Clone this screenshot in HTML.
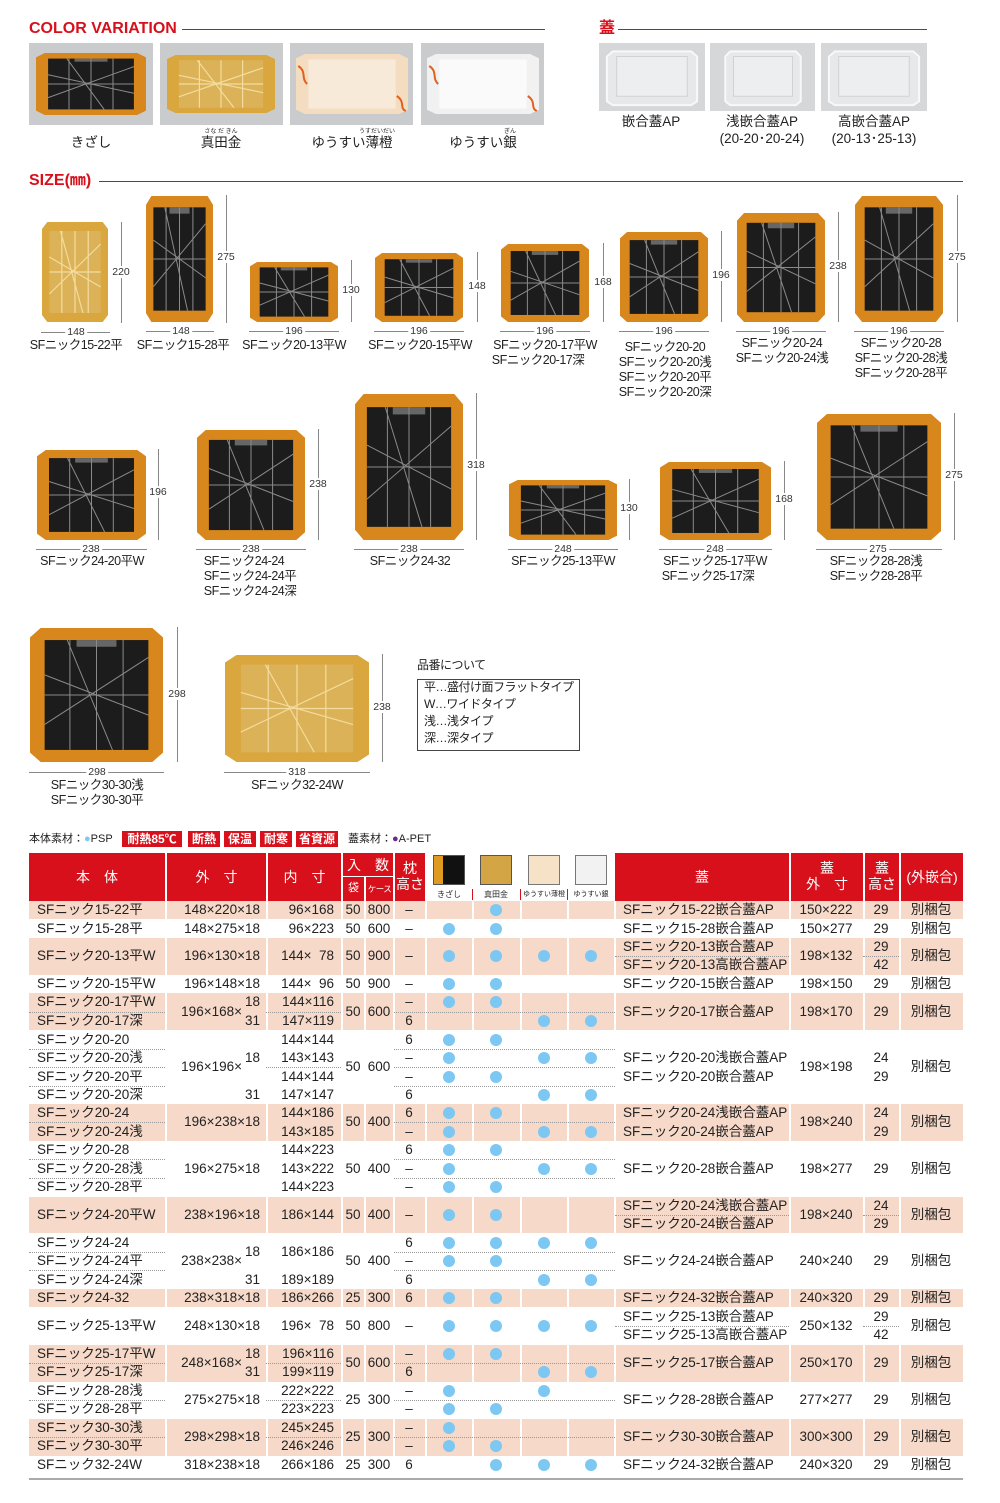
<!DOCTYPE html>
<html><head><meta charset="utf-8"><style>
*{margin:0;padding:0;box-sizing:border-box}
body{width:1000px;height:1503px;position:relative;background:#fff;font-family:"Liberation Sans","Noto Sans CJK JP",sans-serif;color:#222;overflow:hidden}
.a{position:absolute;white-space:nowrap;line-height:18px;height:18px;margin-top:-9px;font-size:13.5px}
.sz .a{font-size:12.5px;letter-spacing:-0.5px;line-height:15px}
.m{transform:translateX(-50%)}
.r{transform:translateX(-100%)}
.b{position:absolute}
.h{color:#d7101b;font-weight:bold;font-size:16px}
.tr{position:absolute}
.tr svg{width:100%;height:100%;display:block}
.vl{position:absolute;width:1px;background:#888}
.hl{position:absolute;height:1px;background:#888}
.dl{position:absolute;font-size:10.5px;color:#333;background:#fff;line-height:12px;padding:0 2px;white-space:nowrap}
.pk{position:absolute;left:29px;width:934px;background:#f6d9c9}
.wv{position:absolute;width:2px;background:#fff;top:901px;height:577px}
.dot{position:absolute;width:12px;height:12px;border-radius:50%;background:#7cc8f2;margin:-6px 0 0 -6px}
.hd{position:absolute;color:#fff;font-size:14px;line-height:17px;text-align:center;white-space:nowrap}
.ds{position:absolute;height:0;border-top:1px dotted #999}
</style></head><body>
<svg width="0" height="0" style="position:absolute"><defs>
<symbol id="k" viewBox="0 0 100 100" preserveAspectRatio="none"><polygon points="8,0 92,0 100,7 100,93 92,100 8,100 0,93 0,7" fill="#d8871c"/><rect x="11" y="9" width="78" height="82" fill="#1c1c1c"/><rect x="35" y="9" width="30" height="5" fill="#666"/><path d="M11,35 L89,65 M28,9 L62,91 M11,72 L89,22 M50,9 V91 M11,50 H89 M30,9 V91 M70,9 V91" stroke="#8a8a8a" stroke-width="1" fill="none" vector-effect="non-scaling-stroke"/></symbol>
<symbol id="g" viewBox="0 0 100 100" preserveAspectRatio="none"><polygon points="8,0 92,0 100,7 100,93 92,100 8,100 0,93 0,7" fill="#d9a73e"/><rect x="11" y="9" width="78" height="82" fill="#dcb258"/><path d="M11,35 L89,65 M28,9 L62,91 M11,72 L89,22 M50,9 V91 M11,50 H89 M30,9 V91 M70,9 V91" stroke="#f3dc9e" stroke-width="1.2" fill="none" vector-effect="non-scaling-stroke"/></symbol>
<symbol id="o" viewBox="0 0 100 100" preserveAspectRatio="none"><polygon points="8,0 92,0 100,7 100,93 92,100 8,100 0,93 0,7" fill="#f3dcc0"/><rect x="11" y="9" width="78" height="82" fill="#f8ead8"/><path d="M2,20 C10,30 4,40 10,50 M90,70 C98,80 92,90 98,95" stroke="#e0601e" stroke-width="2" fill="none" vector-effect="non-scaling-stroke"/></symbol>
<symbol id="s" viewBox="0 0 100 100" preserveAspectRatio="none"><polygon points="8,0 92,0 100,7 100,93 92,100 8,100 0,93 0,7" fill="#f1f1f1"/><rect x="11" y="9" width="78" height="82" fill="#fafafa"/><path d="M2,20 C10,30 4,40 10,50 M90,70 C98,80 92,90 98,95" stroke="#e0601e" stroke-width="2" fill="none" vector-effect="non-scaling-stroke"/></symbol>
<symbol id="l" viewBox="0 0 100 100" preserveAspectRatio="none"><polygon points="10,10 90,10 96,18 96,88 90,94 10,94 4,88 4,18" fill="#e6e8ea" stroke="#f8f8f8" stroke-width="2" vector-effect="non-scaling-stroke"/><rect x="14" y="18" width="72" height="62" fill="#eceeef" stroke="#d0d2d4" vector-effect="non-scaling-stroke"/></symbol>
</defs></svg>

<!-- headers -->
<div class="a h" style="left:29px;top:29px">COLOR VARIATION</div>
<div class="b" style="left:182px;top:29px;width:363px;height:1px;background:#d7101b"></div>
<div class="a h" style="left:599px;top:29px">蓋</div>
<div class="b" style="left:618px;top:29px;width:309px;height:1px;background:#d7101b"></div>
<div class="a h" style="left:29px;top:181px">SIZE(㎜)</div>
<div class="b" style="left:99px;top:181px;width:864px;height:1px;background:#d7101b"></div>

<!-- color variation -->
<div class="b" style="left:29px;top:43px;width:124px;height:82px;background:#c9cbcd"></div>
<div class="tr" style="left:36px;top:53px;width:110px;height:62px"><svg><use href="#k"/></svg></div>
<div class="b" style="left:160px;top:43px;width:123px;height:82px;background:#c9cbcd"></div>
<div class="tr" style="left:167px;top:55px;width:108px;height:58px"><svg><use href="#g"/></svg></div>
<div class="b" style="left:290px;top:43px;width:123px;height:82px;background:#c9cbcd"></div>
<div class="tr" style="left:296px;top:54px;width:112px;height:60px"><svg><use href="#o"/></svg></div>
<div class="b" style="left:421px;top:43px;width:123px;height:82px;background:#c9cbcd"></div>
<div class="tr" style="left:427px;top:54px;width:112px;height:60px"><svg><use href="#s"/></svg></div>
<div class="a m" style="left:91px;top:143px">きざし</div>
<div class="a m" style="left:221px;top:143px">真田金</div>
<div class="a m" style="left:221px;top:132px;font-size:6px">さな だ きん</div>
<div class="a m" style="left:352px;top:143px">ゆうすい薄橙</div>
<div class="a m" style="left:377px;top:132px;font-size:6px">うすだいだい</div>
<div class="a m" style="left:483px;top:143px">ゆうすい銀</div>
<div class="a m" style="left:510px;top:132px;font-size:6px">ぎん</div>

<div class="b" style="left:599px;top:43px;width:106px;height:68px;background:#d5d7d9"></div>
<div class="tr" style="left:603px;top:45px;width:98px;height:64px"><svg><use href="#l"/></svg></div>
<div class="b" style="left:710px;top:43px;width:105px;height:68px;background:#d5d7d9"></div>
<div class="tr" style="left:722px;top:45px;width:82px;height:64px"><svg><use href="#l"/></svg></div>
<div class="b" style="left:821px;top:43px;width:106px;height:68px;background:#d5d7d9"></div>
<div class="tr" style="left:825px;top:45px;width:98px;height:64px"><svg><use href="#l"/></svg></div>
<div class="a m" style="left:651px;top:122px">嵌合蓋AP</div>
<div class="a m" style="left:762px;top:122px">浅嵌合蓋AP</div>
<div class="a m" style="left:762px;top:139px">(20-20･20-24)</div>
<div class="a m" style="left:874px;top:122px">高嵌合蓋AP</div>
<div class="a m" style="left:874px;top:139px">(20-13･25-13)</div>

<div class="sz">
<!-- trays row1 -->
<div class="tr" style="left:42px;top:222px;width:66px;height:100px"><svg><use href="#g"/></svg></div>
<div class="vl" style="left:121px;top:222px;height:101px"></div><div class="dl m" style="left:121px;top:266px">220</div>
<div class="hl" style="left:41px;top:332px;width:69px"></div><div class="dl m" style="left:76px;top:326px">148</div>
<div class="a m" style="left:76px;top:347px">SFニック15-22平</div>

<div class="tr" style="left:146px;top:196px;width:67px;height:126px"><svg><use href="#k"/></svg></div>
<div class="vl" style="left:226px;top:195px;height:128px"></div><div class="dl m" style="left:226px;top:251px">275</div>
<div class="hl" style="left:146px;top:331px;width:68px"></div><div class="dl m" style="left:181px;top:325px">148</div>
<div class="a m" style="left:183px;top:347px">SFニック15-28平</div>

<div class="tr" style="left:250px;top:262px;width:88px;height:60px"><svg><use href="#k"/></svg></div>
<div class="vl" style="left:351px;top:260px;height:62px"></div><div class="dl m" style="left:351px;top:284px">130</div>
<div class="hl" style="left:249px;top:331px;width:90px"></div><div class="dl m" style="left:294px;top:325px">196</div>
<div class="a m" style="left:294px;top:347px">SFニック20-13平W</div>

<div class="tr" style="left:375px;top:253px;width:88px;height:69px"><svg><use href="#k"/></svg></div>
<div class="vl" style="left:477px;top:252px;height:70px"></div><div class="dl m" style="left:477px;top:280px">148</div>
<div class="hl" style="left:374px;top:331px;width:90px"></div><div class="dl m" style="left:419px;top:325px">196</div>
<div class="a m" style="left:420px;top:347px">SFニック20-15平W</div>

<div class="tr" style="left:501px;top:244px;width:88px;height:78px"><svg><use href="#k"/></svg></div>
<div class="vl" style="left:603px;top:243px;height:79px"></div><div class="dl m" style="left:603px;top:276px">168</div>
<div class="hl" style="left:500px;top:331px;width:90px"></div><div class="dl m" style="left:545px;top:325px">196</div>
<div class="a m" style="left:545px;top:347px">SFニック20-17平W</div>
<div class="a m" style="left:538px;top:362px">SFニック20-17深</div>

<div class="tr" style="left:620px;top:232px;width:88px;height:90px"><svg><use href="#k"/></svg></div>
<div class="vl" style="left:721px;top:231px;height:91px"></div><div class="dl m" style="left:721px;top:269px">196</div>
<div class="hl" style="left:619px;top:331px;width:90px"></div><div class="dl m" style="left:664px;top:325px">196</div>
<div class="a m" style="left:665px;top:349px">SFニック20-20</div>
<div class="a m" style="left:665px;top:364px">SFニック20-20浅</div>
<div class="a m" style="left:665px;top:379px">SFニック20-20平</div>
<div class="a m" style="left:665px;top:394px">SFニック20-20深</div>

<div class="tr" style="left:737px;top:213px;width:88px;height:109px"><svg><use href="#k"/></svg></div>
<div class="vl" style="left:838px;top:212px;height:110px"></div><div class="dl m" style="left:838px;top:260px">238</div>
<div class="hl" style="left:736px;top:331px;width:90px"></div><div class="dl m" style="left:781px;top:325px">196</div>
<div class="a m" style="left:782px;top:345px">SFニック20-24</div>
<div class="a m" style="left:782px;top:360px">SFニック20-24浅</div>

<div class="tr" style="left:855px;top:196px;width:88px;height:126px"><svg><use href="#k"/></svg></div>
<div class="vl" style="left:957px;top:195px;height:127px"></div><div class="dl m" style="left:957px;top:251px">275</div>
<div class="hl" style="left:854px;top:331px;width:90px"></div><div class="dl m" style="left:899px;top:325px">196</div>
<div class="a m" style="left:901px;top:345px">SFニック20-28</div>
<div class="a m" style="left:901px;top:360px">SFニック20-28浅</div>
<div class="a m" style="left:901px;top:375px">SFニック20-28平</div>

<!-- row2 -->
<div class="tr" style="left:37px;top:450px;width:109px;height:90px"><svg><use href="#k"/></svg></div>
<div class="vl" style="left:158px;top:449px;height:91px"></div><div class="dl m" style="left:158px;top:486px">196</div>
<div class="hl" style="left:36px;top:549px;width:111px"></div><div class="dl m" style="left:91px;top:543px">238</div>
<div class="a m" style="left:92px;top:563px">SFニック24-20平W</div>

<div class="tr" style="left:197px;top:430px;width:108px;height:110px"><svg><use href="#k"/></svg></div>
<div class="vl" style="left:318px;top:429px;height:111px"></div><div class="dl m" style="left:318px;top:478px">238</div>
<div class="hl" style="left:196px;top:549px;width:110px"></div><div class="dl m" style="left:251px;top:543px">238</div>
<div class="a m" style="left:244px;top:563px">SFニック24-24</div>
<div class="a m" style="left:250px;top:578px">SFニック24-24平</div>
<div class="a m" style="left:250px;top:593px">SFニック24-24深</div>

<div class="tr" style="left:355px;top:394px;width:108px;height:146px"><svg><use href="#k"/></svg></div>
<div class="vl" style="left:476px;top:393px;height:147px"></div><div class="dl m" style="left:476px;top:459px">318</div>
<div class="hl" style="left:354px;top:549px;width:110px"></div><div class="dl m" style="left:409px;top:543px">238</div>
<div class="a m" style="left:410px;top:563px">SFニック24-32</div>

<div class="tr" style="left:509px;top:480px;width:108px;height:60px"><svg><use href="#k"/></svg></div>
<div class="vl" style="left:629px;top:479px;height:61px"></div><div class="dl m" style="left:629px;top:502px">130</div>
<div class="hl" style="left:508px;top:549px;width:110px"></div><div class="dl m" style="left:563px;top:543px">248</div>
<div class="a m" style="left:563px;top:563px">SFニック25-13平W</div>

<div class="tr" style="left:660px;top:462px;width:111px;height:78px"><svg><use href="#k"/></svg></div>
<div class="vl" style="left:784px;top:461px;height:79px"></div><div class="dl m" style="left:784px;top:493px">168</div>
<div class="hl" style="left:659px;top:549px;width:113px"></div><div class="dl m" style="left:715px;top:543px">248</div>
<div class="a m" style="left:715px;top:563px">SFニック25-17平W</div>
<div class="a m" style="left:708px;top:578px">SFニック25-17深</div>

<div class="tr" style="left:817px;top:414px;width:124px;height:126px"><svg><use href="#k"/></svg></div>
<div class="vl" style="left:954px;top:413px;height:127px"></div><div class="dl m" style="left:954px;top:469px">275</div>
<div class="hl" style="left:816px;top:549px;width:126px"></div><div class="dl m" style="left:878px;top:543px">275</div>
<div class="a m" style="left:876px;top:563px">SFニック28-28浅</div>
<div class="a m" style="left:876px;top:578px">SFニック28-28平</div>

<!-- row3 -->
<div class="tr" style="left:30px;top:628px;width:133px;height:134px"><svg><use href="#k"/></svg></div>
<div class="vl" style="left:177px;top:627px;height:135px"></div><div class="dl m" style="left:177px;top:688px">298</div>
<div class="hl" style="left:29px;top:772px;width:135px"></div><div class="dl m" style="left:97px;top:766px">298</div>
<div class="a m" style="left:97px;top:787px">SFニック30-30浅</div>
<div class="a m" style="left:97px;top:802px">SFニック30-30平</div>

<div class="tr" style="left:225px;top:655px;width:144px;height:107px"><svg><use href="#g"/></svg></div>
<div class="vl" style="left:382px;top:654px;height:108px"></div><div class="dl m" style="left:382px;top:701px">238</div>
<div class="hl" style="left:224px;top:772px;width:146px"></div><div class="dl m" style="left:297px;top:766px">318</div>
<div class="a m" style="left:297px;top:787px">SFニック32-24W</div>

<div class="a" style="left:417px;top:667px;font-size:12px">品番について</div>
<div class="b" style="left:417px;top:679px;width:163px;height:72px;border:1px solid #444"></div>
<div class="a" style="left:424px;top:689px;font-size:12px">平…盛付け面フラットタイプ</div>
<div class="a" style="left:424px;top:706px;font-size:12px">W…ワイドタイプ</div>
<div class="a" style="left:424px;top:723px;font-size:12px">浅…浅タイプ</div>
<div class="a" style="left:424px;top:740px;font-size:12px">深…深タイプ</div>
</div>

<!-- material line -->
<div class="a" style="left:29px;top:839px;font-size:11px">本体素材：<span style="color:#7cc8f2">●</span>PSP</div>
<div class="b" style="left:122px;top:831px;width:60px;height:16px;background:#d7101b;color:#fff;font-size:12px;font-weight:bold;text-align:center;line-height:16px">耐熱85℃</div>
<div class="b" style="left:188px;top:831px;width:32px;height:16px;background:#d7101b;color:#fff;font-size:12px;font-weight:bold;text-align:center;line-height:16px">断熱</div>
<div class="b" style="left:224px;top:831px;width:32px;height:16px;background:#d7101b;color:#fff;font-size:12px;font-weight:bold;text-align:center;line-height:16px">保温</div>
<div class="b" style="left:260px;top:831px;width:32px;height:16px;background:#d7101b;color:#fff;font-size:12px;font-weight:bold;text-align:center;line-height:16px">耐寒</div>
<div class="b" style="left:296px;top:831px;width:42px;height:16px;background:#d7101b;color:#fff;font-size:12px;font-weight:bold;text-align:center;line-height:16px">省資源</div>
<div class="a" style="left:348px;top:839px;font-size:11px">蓋素材：<span style="color:#6a2a8a">●</span>A-PET</div>

<!-- table header -->
<div class="b" style="left:29px;top:853px;width:396px;height:48px;background:#d7101b"></div>
<div class="b" style="left:615px;top:853px;width:348px;height:48px;background:#d7101b"></div>
<div class="b" style="left:165px;top:853px;width:2px;height:48px;background:#fff"></div>
<div class="b" style="left:266px;top:853px;width:2px;height:48px;background:#fff"></div>
<div class="b" style="left:341px;top:853px;width:2px;height:48px;background:#fff"></div>
<div class="b" style="left:393px;top:853px;width:2px;height:48px;background:#fff"></div>
<div class="b" style="left:364px;top:877px;width:2px;height:24px;background:#fff"></div>
<div class="b" style="left:341px;top:876px;width:53px;height:1px;background:#fff"></div>
<div class="b" style="left:789px;top:853px;width:2px;height:48px;background:#fff"></div>
<div class="b" style="left:863px;top:853px;width:2px;height:48px;background:#fff"></div>
<div class="b" style="left:899px;top:853px;width:2px;height:48px;background:#fff"></div>
<div class="hd" style="left:29px;width:136px;top:869px">本　体</div>
<div class="hd" style="left:167px;width:99px;top:869px">外　寸</div>
<div class="hd" style="left:268px;width:73px;top:869px">内　寸</div>
<div class="hd" style="left:343px;width:50px;top:857px">入　数</div>
<div class="hd" style="left:343px;width:21px;top:880px;font-size:11px">袋</div>
<div class="hd" style="left:366px;width:27px;top:881px;font-size:8.5px;letter-spacing:-0.5px">ケース</div>
<div class="hd" style="left:395px;width:30px;top:860px;line-height:16px">枕<br>高さ</div>
<div class="hd" style="left:615px;width:174px;top:869px">蓋</div>
<div class="hd" style="left:791px;width:72px;top:860px;line-height:16px">蓋<br>外　寸</div>
<div class="hd" style="left:865px;width:34px;top:860px;line-height:16px">蓋<br>高さ</div>
<div class="hd" style="left:901px;width:62px;top:869px">(外嵌合)</div>
<!-- swatches -->
<div class="b" style="left:433px;top:855px;width:32px;height:30px;background:linear-gradient(90deg,#e09a20 30%,#111 30%);border:1px solid #555"></div>
<div class="b" style="left:480px;top:855px;width:32px;height:30px;background:#d4a544;border:1px solid #555"></div>
<div class="b" style="left:528px;top:855px;width:32px;height:30px;background:#f6e2c6;border:1px solid #777"></div>
<div class="b" style="left:575px;top:855px;width:32px;height:30px;background:#f2f2f2;border:1px solid #777"></div>
<div class="a m" style="left:449px;top:895px;font-size:8px">きざし</div>
<div class="a m" style="left:496px;top:895px;font-size:8px">真田金</div>
<div class="a m" style="left:544px;top:895px;font-size:7px">ゆうすい薄橙</div>
<div class="a m" style="left:591px;top:895px;font-size:7px">ゆうすい銀</div>
<div class="b" style="left:472px;top:889px;width:1px;height:11px;background:#d7101b"></div>
<div class="b" style="left:520px;top:889px;width:1px;height:11px;background:#d7101b"></div>
<div class="b" style="left:567px;top:889px;width:1px;height:11px;background:#d7101b"></div>

<!-- peach rows -->
<div class="pk" style="top:901px;height:18px"></div>
<div class="pk" style="top:938px;height:37px"></div>
<div class="pk" style="top:993px;height:37px"></div>
<div class="pk" style="top:1104px;height:37px"></div>
<div class="pk" style="top:1197px;height:36px"></div>
<div class="pk" style="top:1289px;height:18px"></div>
<div class="pk" style="top:1345px;height:37px"></div>
<div class="pk" style="top:1419px;height:37px"></div>
<div class="wv" style="left:165px"></div><div class="wv" style="left:266px"></div><div class="wv" style="left:341px"></div><div class="wv" style="left:364px"></div><div class="wv" style="left:393px"></div><div class="wv" style="left:425px"></div><div class="wv" style="left:472px"></div><div class="wv" style="left:520px"></div><div class="wv" style="left:567px"></div><div class="wv" style="left:614px"></div><div class="wv" style="left:789px"></div><div class="wv" style="left:863px"></div><div class="wv" style="left:899px"></div>
<div class="b" style="left:29px;top:1478px;width:934px;height:2px;background:#aaa"></div>

<!-- dotted separators -->
<div class="ds" style="left:29px;top:1012px;width:136px"></div><div class="ds" style="left:266px;top:1012px;width:75px"></div><div class="ds" style="left:394px;top:1012px;width:221px"></div>
<div class="ds" style="left:615px;top:956px;width:174px"></div><div class="ds" style="left:863px;top:956px;width:36px"></div>
<div class="ds" style="left:29px;top:1049px;width:136px"></div><div class="ds" style="left:29px;top:1067px;width:136px"></div><div class="ds" style="left:29px;top:1086px;width:136px"></div>
<div class="ds" style="left:266px;top:1067px;width:75px"></div><div class="ds" style="left:394px;top:1049px;width:221px"></div><div class="ds" style="left:394px;top:1067px;width:221px"></div><div class="ds" style="left:394px;top:1086px;width:221px"></div>
<div class="ds" style="left:29px;top:1122px;width:136px"></div><div class="ds" style="left:394px;top:1122px;width:221px"></div>
<div class="ds" style="left:29px;top:1159px;width:136px"></div><div class="ds" style="left:29px;top:1178px;width:136px"></div><div class="ds" style="left:394px;top:1159px;width:221px"></div><div class="ds" style="left:394px;top:1178px;width:221px"></div>
<div class="ds" style="left:615px;top:1215px;width:174px"></div><div class="ds" style="left:863px;top:1215px;width:36px"></div>
<div class="ds" style="left:29px;top:1252px;width:136px"></div><div class="ds" style="left:29px;top:1270px;width:136px"></div><div class="ds" style="left:394px;top:1252px;width:221px"></div><div class="ds" style="left:394px;top:1270px;width:221px"></div>
<div class="ds" style="left:615px;top:1326px;width:174px"></div><div class="ds" style="left:863px;top:1326px;width:36px"></div>
<div class="ds" style="left:29px;top:1363px;width:136px"></div><div class="ds" style="left:266px;top:1363px;width:75px"></div><div class="ds" style="left:394px;top:1363px;width:221px"></div>
<div class="ds" style="left:29px;top:1400px;width:136px"></div><div class="ds" style="left:266px;top:1400px;width:75px"></div><div class="ds" style="left:394px;top:1400px;width:221px"></div>
<div class="ds" style="left:29px;top:1437px;width:136px"></div><div class="ds" style="left:266px;top:1437px;width:75px"></div><div class="ds" style="left:394px;top:1437px;width:221px"></div>

<!-- names -->
<div class="a" style="left:37px;top:910px">SFニック15-22平</div>
<div class="a" style="left:37px;top:929px">SFニック15-28平</div>
<div class="a" style="left:37px;top:956px">SFニック20-13平W</div>
<div class="a" style="left:37px;top:984px">SFニック20-15平W</div>
<div class="a" style="left:37px;top:1002px">SFニック20-17平W</div>
<div class="a" style="left:37px;top:1021px">SFニック20-17深</div>
<div class="a" style="left:37px;top:1040px">SFニック20-20</div>
<div class="a" style="left:37px;top:1058px">SFニック20-20浅</div>
<div class="a" style="left:37px;top:1077px">SFニック20-20平</div>
<div class="a" style="left:37px;top:1095px">SFニック20-20深</div>
<div class="a" style="left:37px;top:1113px">SFニック20-24</div>
<div class="a" style="left:37px;top:1132px">SFニック20-24浅</div>
<div class="a" style="left:37px;top:1150px">SFニック20-28</div>
<div class="a" style="left:37px;top:1169px">SFニック20-28浅</div>
<div class="a" style="left:37px;top:1187px">SFニック20-28平</div>
<div class="a" style="left:37px;top:1215px">SFニック24-20平W</div>
<div class="a" style="left:37px;top:1243px">SFニック24-24</div>
<div class="a" style="left:37px;top:1261px">SFニック24-24平</div>
<div class="a" style="left:37px;top:1280px">SFニック24-24深</div>
<div class="a" style="left:37px;top:1298px">SFニック24-32</div>
<div class="a" style="left:37px;top:1326px">SFニック25-13平W</div>
<div class="a" style="left:37px;top:1354px">SFニック25-17平W</div>
<div class="a" style="left:37px;top:1372px">SFニック25-17深</div>
<div class="a" style="left:37px;top:1391px">SFニック28-28浅</div>
<div class="a" style="left:37px;top:1409px">SFニック28-28平</div>
<div class="a" style="left:37px;top:1428px">SFニック30-30浅</div>
<div class="a" style="left:37px;top:1446px">SFニック30-30平</div>
<div class="a" style="left:37px;top:1465px">SFニック32-24W</div>

<!-- 外寸 -->
<div class="a r" style="left:260px;top:910px">148×220×18</div>
<div class="a r" style="left:260px;top:929px">148×275×18</div>
<div class="a r" style="left:260px;top:956px">196×130×18</div>
<div class="a r" style="left:260px;top:984px">196×148×18</div>
<div class="a r" style="left:242px;top:1012px">196×168×</div><div class="a r" style="left:260px;top:1002px">18</div><div class="a r" style="left:260px;top:1021px">31</div>
<div class="a r" style="left:242px;top:1067px">196×196×</div><div class="a r" style="left:260px;top:1058px">18</div><div class="a r" style="left:260px;top:1095px">31</div>
<div class="a r" style="left:260px;top:1122px">196×238×18</div>
<div class="a r" style="left:260px;top:1169px">196×275×18</div>
<div class="a r" style="left:260px;top:1215px">238×196×18</div>
<div class="a r" style="left:242px;top:1261px">238×238×</div><div class="a r" style="left:260px;top:1252px">18</div><div class="a r" style="left:260px;top:1280px">31</div>
<div class="a r" style="left:260px;top:1298px">238×318×18</div>
<div class="a r" style="left:260px;top:1326px">248×130×18</div>
<div class="a r" style="left:242px;top:1363px">248×168×</div><div class="a r" style="left:260px;top:1354px">18</div><div class="a r" style="left:260px;top:1372px">31</div>
<div class="a r" style="left:260px;top:1400px">275×275×18</div>
<div class="a r" style="left:260px;top:1437px">298×298×18</div>
<div class="a r" style="left:260px;top:1465px">318×238×18</div>

<!-- 内寸 -->
<div class="a r" style="left:334px;top:910px">96×168</div>
<div class="a r" style="left:334px;top:929px">96×223</div>
<div class="a r" style="left:334px;top:956px">144×&nbsp;&nbsp;78</div>
<div class="a r" style="left:334px;top:984px">144×&nbsp;&nbsp;96</div>
<div class="a r" style="left:334px;top:1002px">144×116</div>
<div class="a r" style="left:334px;top:1021px">147×119</div>
<div class="a r" style="left:334px;top:1040px">144×144</div>
<div class="a r" style="left:334px;top:1058px">143×143</div>
<div class="a r" style="left:334px;top:1077px">144×144</div>
<div class="a r" style="left:334px;top:1095px">147×147</div>
<div class="a r" style="left:334px;top:1113px">144×186</div>
<div class="a r" style="left:334px;top:1132px">143×185</div>
<div class="a r" style="left:334px;top:1150px">144×223</div>
<div class="a r" style="left:334px;top:1169px">143×222</div>
<div class="a r" style="left:334px;top:1187px">144×223</div>
<div class="a r" style="left:334px;top:1215px">186×144</div>
<div class="a r" style="left:334px;top:1252px">186×186</div>
<div class="a r" style="left:334px;top:1280px">189×189</div>
<div class="a r" style="left:334px;top:1298px">186×266</div>
<div class="a r" style="left:334px;top:1326px">196×&nbsp;&nbsp;78</div>
<div class="a r" style="left:334px;top:1354px">196×116</div>
<div class="a r" style="left:334px;top:1372px">199×119</div>
<div class="a r" style="left:334px;top:1391px">222×222</div>
<div class="a r" style="left:334px;top:1409px">223×223</div>
<div class="a r" style="left:334px;top:1428px">245×245</div>
<div class="a r" style="left:334px;top:1446px">246×246</div>
<div class="a r" style="left:334px;top:1465px">266×186</div>

<!-- 入数 -->
<div class="a m" style="left:353px;top:910px">50</div><div class="a m" style="left:379px;top:910px">800</div>
<div class="a m" style="left:353px;top:929px">50</div><div class="a m" style="left:379px;top:929px">600</div>
<div class="a m" style="left:353px;top:956px">50</div><div class="a m" style="left:379px;top:956px">900</div>
<div class="a m" style="left:353px;top:984px">50</div><div class="a m" style="left:379px;top:984px">900</div>
<div class="a m" style="left:353px;top:1012px">50</div><div class="a m" style="left:379px;top:1012px">600</div>
<div class="a m" style="left:353px;top:1067px">50</div><div class="a m" style="left:379px;top:1067px">600</div>
<div class="a m" style="left:353px;top:1122px">50</div><div class="a m" style="left:379px;top:1122px">400</div>
<div class="a m" style="left:353px;top:1169px">50</div><div class="a m" style="left:379px;top:1169px">400</div>
<div class="a m" style="left:353px;top:1215px">50</div><div class="a m" style="left:379px;top:1215px">400</div>
<div class="a m" style="left:353px;top:1261px">50</div><div class="a m" style="left:379px;top:1261px">400</div>
<div class="a m" style="left:353px;top:1298px">25</div><div class="a m" style="left:379px;top:1298px">300</div>
<div class="a m" style="left:353px;top:1326px">50</div><div class="a m" style="left:379px;top:1326px">800</div>
<div class="a m" style="left:353px;top:1363px">50</div><div class="a m" style="left:379px;top:1363px">600</div>
<div class="a m" style="left:353px;top:1400px">25</div><div class="a m" style="left:379px;top:1400px">300</div>
<div class="a m" style="left:353px;top:1437px">25</div><div class="a m" style="left:379px;top:1437px">300</div>
<div class="a m" style="left:353px;top:1465px">25</div><div class="a m" style="left:379px;top:1465px">300</div>

<!-- 枕 -->
<div class="a m" style="left:409px;top:910px">–</div>
<div class="a m" style="left:409px;top:929px">–</div>
<div class="a m" style="left:409px;top:956px">–</div>
<div class="a m" style="left:409px;top:984px">–</div>
<div class="a m" style="left:409px;top:1002px">–</div>
<div class="a m" style="left:409px;top:1021px">6</div>
<div class="a m" style="left:409px;top:1040px">6</div>
<div class="a m" style="left:409px;top:1058px">–</div>
<div class="a m" style="left:409px;top:1077px">–</div>
<div class="a m" style="left:409px;top:1095px">6</div>
<div class="a m" style="left:409px;top:1113px">6</div>
<div class="a m" style="left:409px;top:1132px">–</div>
<div class="a m" style="left:409px;top:1150px">6</div>
<div class="a m" style="left:409px;top:1169px">–</div>
<div class="a m" style="left:409px;top:1187px">–</div>
<div class="a m" style="left:409px;top:1215px">–</div>
<div class="a m" style="left:409px;top:1243px">6</div>
<div class="a m" style="left:409px;top:1261px">–</div>
<div class="a m" style="left:409px;top:1280px">6</div>
<div class="a m" style="left:409px;top:1298px">6</div>
<div class="a m" style="left:409px;top:1326px">–</div>
<div class="a m" style="left:409px;top:1354px">–</div>
<div class="a m" style="left:409px;top:1372px">6</div>
<div class="a m" style="left:409px;top:1391px">–</div>
<div class="a m" style="left:409px;top:1409px">–</div>
<div class="a m" style="left:409px;top:1428px">–</div>
<div class="a m" style="left:409px;top:1446px">–</div>
<div class="a m" style="left:409px;top:1465px">6</div>

<!-- dots -->
<div class="dot" style="left:496px;top:910px"></div>
<div class="dot" style="left:449px;top:929px"></div><div class="dot" style="left:496px;top:929px"></div>
<div class="dot" style="left:449px;top:956px"></div><div class="dot" style="left:496px;top:956px"></div><div class="dot" style="left:544px;top:956px"></div><div class="dot" style="left:591px;top:956px"></div>
<div class="dot" style="left:449px;top:984px"></div><div class="dot" style="left:496px;top:984px"></div>
<div class="dot" style="left:449px;top:1002px"></div><div class="dot" style="left:496px;top:1002px"></div>
<div class="dot" style="left:544px;top:1021px"></div><div class="dot" style="left:591px;top:1021px"></div>
<div class="dot" style="left:449px;top:1040px"></div><div class="dot" style="left:496px;top:1040px"></div>
<div class="dot" style="left:449px;top:1058px"></div><div class="dot" style="left:544px;top:1058px"></div><div class="dot" style="left:591px;top:1058px"></div>
<div class="dot" style="left:449px;top:1077px"></div><div class="dot" style="left:496px;top:1077px"></div>
<div class="dot" style="left:544px;top:1095px"></div><div class="dot" style="left:591px;top:1095px"></div>
<div class="dot" style="left:449px;top:1113px"></div><div class="dot" style="left:496px;top:1113px"></div>
<div class="dot" style="left:449px;top:1132px"></div><div class="dot" style="left:544px;top:1132px"></div><div class="dot" style="left:591px;top:1132px"></div>
<div class="dot" style="left:449px;top:1150px"></div><div class="dot" style="left:496px;top:1150px"></div>
<div class="dot" style="left:449px;top:1169px"></div><div class="dot" style="left:544px;top:1169px"></div><div class="dot" style="left:591px;top:1169px"></div>
<div class="dot" style="left:449px;top:1187px"></div><div class="dot" style="left:496px;top:1187px"></div>
<div class="dot" style="left:449px;top:1215px"></div><div class="dot" style="left:496px;top:1215px"></div>
<div class="dot" style="left:449px;top:1243px"></div><div class="dot" style="left:496px;top:1243px"></div><div class="dot" style="left:544px;top:1243px"></div><div class="dot" style="left:591px;top:1243px"></div>
<div class="dot" style="left:449px;top:1261px"></div><div class="dot" style="left:496px;top:1261px"></div>
<div class="dot" style="left:544px;top:1280px"></div><div class="dot" style="left:591px;top:1280px"></div>
<div class="dot" style="left:449px;top:1298px"></div><div class="dot" style="left:496px;top:1298px"></div>
<div class="dot" style="left:449px;top:1326px"></div><div class="dot" style="left:496px;top:1326px"></div><div class="dot" style="left:544px;top:1326px"></div><div class="dot" style="left:591px;top:1326px"></div>
<div class="dot" style="left:449px;top:1354px"></div><div class="dot" style="left:496px;top:1354px"></div>
<div class="dot" style="left:544px;top:1372px"></div><div class="dot" style="left:591px;top:1372px"></div>
<div class="dot" style="left:449px;top:1391px"></div><div class="dot" style="left:544px;top:1391px"></div>
<div class="dot" style="left:449px;top:1409px"></div><div class="dot" style="left:496px;top:1409px"></div>
<div class="dot" style="left:449px;top:1428px"></div>
<div class="dot" style="left:449px;top:1446px"></div><div class="dot" style="left:496px;top:1446px"></div>
<div class="dot" style="left:496px;top:1465px"></div><div class="dot" style="left:544px;top:1465px"></div><div class="dot" style="left:591px;top:1465px"></div>

<!-- lid columns -->
<div class="a" style="left:623px;top:910px">SFニック15-22嵌合蓋AP</div><div class="a m" style="left:826px;top:910px">150×222</div><div class="a m" style="left:881px;top:910px">29</div><div class="a m" style="left:931px;top:910px">別梱包</div>
<div class="a" style="left:623px;top:929px">SFニック15-28嵌合蓋AP</div><div class="a m" style="left:826px;top:929px">150×277</div><div class="a m" style="left:881px;top:929px">29</div><div class="a m" style="left:931px;top:929px">別梱包</div>
<div class="a" style="left:623px;top:947px">SFニック20-13嵌合蓋AP</div><div class="a" style="left:623px;top:965px">SFニック20-13高嵌合蓋AP</div><div class="a m" style="left:826px;top:956px">198×132</div><div class="a m" style="left:881px;top:947px">29</div><div class="a m" style="left:881px;top:965px">42</div><div class="a m" style="left:931px;top:956px">別梱包</div>
<div class="a" style="left:623px;top:984px">SFニック20-15嵌合蓋AP</div><div class="a m" style="left:826px;top:984px">198×150</div><div class="a m" style="left:881px;top:984px">29</div><div class="a m" style="left:931px;top:984px">別梱包</div>
<div class="a" style="left:623px;top:1012px">SFニック20-17嵌合蓋AP</div><div class="a m" style="left:826px;top:1012px">198×170</div><div class="a m" style="left:881px;top:1012px">29</div><div class="a m" style="left:931px;top:1012px">別梱包</div>
<div class="a" style="left:623px;top:1058px">SFニック20-20浅嵌合蓋AP</div><div class="a" style="left:623px;top:1077px">SFニック20-20嵌合蓋AP</div><div class="a m" style="left:826px;top:1067px">198×198</div><div class="a m" style="left:881px;top:1058px">24</div><div class="a m" style="left:881px;top:1077px">29</div><div class="a m" style="left:931px;top:1067px">別梱包</div>
<div class="a" style="left:623px;top:1113px">SFニック20-24浅嵌合蓋AP</div><div class="a" style="left:623px;top:1132px">SFニック20-24嵌合蓋AP</div><div class="a m" style="left:826px;top:1122px">198×240</div><div class="a m" style="left:881px;top:1113px">24</div><div class="a m" style="left:881px;top:1132px">29</div><div class="a m" style="left:931px;top:1122px">別梱包</div>
<div class="a" style="left:623px;top:1169px">SFニック20-28嵌合蓋AP</div><div class="a m" style="left:826px;top:1169px">198×277</div><div class="a m" style="left:881px;top:1169px">29</div><div class="a m" style="left:931px;top:1169px">別梱包</div>
<div class="a" style="left:623px;top:1206px">SFニック20-24浅嵌合蓋AP</div><div class="a" style="left:623px;top:1224px">SFニック20-24嵌合蓋AP</div><div class="a m" style="left:826px;top:1215px">198×240</div><div class="a m" style="left:881px;top:1206px">24</div><div class="a m" style="left:881px;top:1224px">29</div><div class="a m" style="left:931px;top:1215px">別梱包</div>
<div class="a" style="left:623px;top:1261px">SFニック24-24嵌合蓋AP</div><div class="a m" style="left:826px;top:1261px">240×240</div><div class="a m" style="left:881px;top:1261px">29</div><div class="a m" style="left:931px;top:1261px">別梱包</div>
<div class="a" style="left:623px;top:1298px">SFニック24-32嵌合蓋AP</div><div class="a m" style="left:826px;top:1298px">240×320</div><div class="a m" style="left:881px;top:1298px">29</div><div class="a m" style="left:931px;top:1298px">別梱包</div>
<div class="a" style="left:623px;top:1317px">SFニック25-13嵌合蓋AP</div><div class="a" style="left:623px;top:1335px">SFニック25-13高嵌合蓋AP</div><div class="a m" style="left:826px;top:1326px">250×132</div><div class="a m" style="left:881px;top:1317px">29</div><div class="a m" style="left:881px;top:1335px">42</div><div class="a m" style="left:931px;top:1326px">別梱包</div>
<div class="a" style="left:623px;top:1363px">SFニック25-17嵌合蓋AP</div><div class="a m" style="left:826px;top:1363px">250×170</div><div class="a m" style="left:881px;top:1363px">29</div><div class="a m" style="left:931px;top:1363px">別梱包</div>
<div class="a" style="left:623px;top:1400px">SFニック28-28嵌合蓋AP</div><div class="a m" style="left:826px;top:1400px">277×277</div><div class="a m" style="left:881px;top:1400px">29</div><div class="a m" style="left:931px;top:1400px">別梱包</div>
<div class="a" style="left:623px;top:1437px">SFニック30-30嵌合蓋AP</div><div class="a m" style="left:826px;top:1437px">300×300</div><div class="a m" style="left:881px;top:1437px">29</div><div class="a m" style="left:931px;top:1437px">別梱包</div>
<div class="a" style="left:623px;top:1465px">SFニック24-32嵌合蓋AP</div><div class="a m" style="left:826px;top:1465px">240×320</div><div class="a m" style="left:881px;top:1465px">29</div><div class="a m" style="left:931px;top:1465px">別梱包</div>
</body></html>
